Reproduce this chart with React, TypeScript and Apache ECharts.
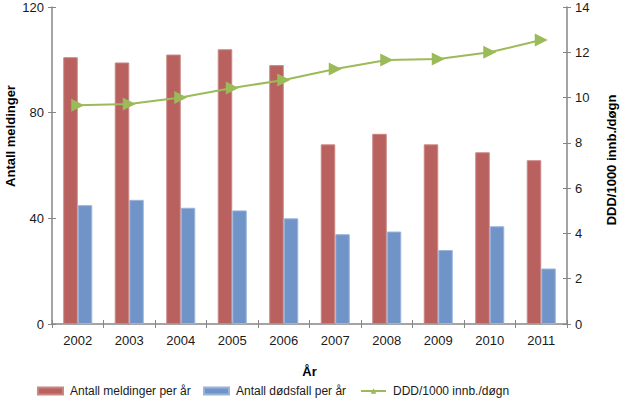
import React, { useEffect, useRef } from "react";
import * as echarts from "echarts";

const years = ["2002", "2003", "2004", "2005", "2006", "2007", "2008", "2009", "2010", "2011"];
const meldinger = [101, 99, 102, 104, 98, 68, 72, 68, 65, 62];
const dodsfall = [45, 47, 44, 43, 40, 34, 35, 28, 37, 21];
const ddd = [9.66, 9.72, 10.0, 10.42, 10.78, 11.26, 11.66, 11.7, 12.0, 12.54];

const leftTicks = { min: 0, max: 120, interval: 40 };
const rightTicks = { min: 0, max: 14, interval: 2 };

const FONT = "Liberation Sans, Arial, sans-serif";
const AX = "#868686";

export default function App() {
  const ref = useRef<HTMLDivElement>(null);
  useEffect(() => {
    const chart = echarts.init(ref.current!, null, { renderer: "svg" });
    const labelStyle = { color: "#1a1a1a", fontSize: 13, fontFamily: FONT };
    const legendBase = {
      top: 385,
      padding: 0,
      itemWidth: 25,
      itemHeight: 7,
      textStyle: { fontSize: 12, color: "#1a1a1a", fontFamily: FONT, padding: [0, 0, 0, 2] },
    };
    chart.setOption({
      animation: false,
      textStyle: { fontFamily: FONT },
      grid: { left: 52, right: 53, top: 7, bottom: 75 },
      xAxis: [
        {
          type: "category",
          data: years,
          axisLine: { lineStyle: { color: AX, width: 1.5 } },
          axisTick: { show: true, length: 4, lineStyle: { color: AX } },
          axisLabel: { ...labelStyle, margin: 10 },
          name: "År",
          nameLocation: "middle",
          nameGap: 41,
          nameTextStyle: { fontWeight: "bold", fontSize: 13, color: "#000", fontFamily: FONT },
        },
        {
          type: "category",
          data: years,
          position: "bottom",
          axisLine: { show: false },
          axisTick: { show: true, inside: true, length: 4, lineStyle: { color: AX } },
          axisLabel: { show: false },
        },
      ],
      yAxis: [
        {
          type: "value",
          ...leftTicks,
          position: "left",
          axisLine: { show: true, lineStyle: { color: AX, width: 1.5 } },
          axisTick: { show: true, length: 4, lineStyle: { color: AX } },
          axisLabel: { ...labelStyle, margin: 8 },
          splitLine: { show: false },
        },
        {
          type: "value",
          ...rightTicks,
          position: "right",
          axisLine: { show: true, lineStyle: { color: AX, width: 1.5 } },
          axisTick: { show: true, length: 4, lineStyle: { color: AX } },
          axisLabel: { ...labelStyle, margin: 8 },
          splitLine: { show: false },
        },
        {
          type: "value",
          ...leftTicks,
          position: "left",
          axisLine: { show: false },
          axisTick: { show: true, inside: true, length: 4, lineStyle: { color: AX } },
          axisLabel: { show: false },
          splitLine: { show: false },
        },
        {
          type: "value",
          ...rightTicks,
          position: "right",
          axisLine: { show: false },
          axisTick: { show: true, inside: true, length: 4, lineStyle: { color: AX } },
          axisLabel: { show: false },
          splitLine: { show: false },
        },
      ],
      legend: [
        { ...legendBase, left: 37, data: [{ name: "Antall meldinger per år", icon: "rect" }] },
        { ...legendBase, left: 203, data: [{ name: "Antall dødsfall per år", icon: "rect" }] },
        { ...legendBase, left: 360, data: [{ name: "DDD/1000 innb./døgn", symbolRotate: 0 }] },
      ],
      graphic: [
        {
          type: "text",
          x: 10,
          y: 136,
          rotation: Math.PI / 2,
          style: {
            text: "Antall meldinger",
            fontWeight: "bold",
            fontSize: 13,
            fontFamily: FONT,
            fill: "#000",
            align: "center",
            verticalAlign: "middle",
          },
        },
        {
          type: "text",
          x: 611,
          y: 160,
          rotation: Math.PI / 2,
          style: {
            text: "DDD/1000 innb./døgn",
            fontWeight: "bold",
            fontSize: 13,
            fontFamily: FONT,
            fill: "#000",
            align: "center",
            verticalAlign: "middle",
          },
        },
      ],
      series: [
        {
          name: "Antall meldinger per år",
          type: "bar",
          data: meldinger,
          barWidth: 14.5,
          barGap: "0%",
          itemStyle: { color: "#B8615E", borderColor: "#C98784", borderWidth: 1 },
        },
        {
          name: "Antall dødsfall per år",
          type: "bar",
          data: dodsfall,
          barWidth: 14.5,
          barGap: "0%",
          itemStyle: { color: "#7094C8", borderColor: "#9AB4DA", borderWidth: 1 },
        },
        {
          name: "DDD/1000 innb./døgn",
          type: "line",
          yAxisIndex: 1,
          data: ddd,
          symbol: "triangle",
          symbolSize: 13,
          symbolRotate: -90,
          lineStyle: { color: "#9BBB59", width: 2 },
          itemStyle: { color: "#9BBB59" },
          z: 5,
        },
      ],
    });
    return () => chart.dispose();
  }, []);
  return <div ref={ref} style={{ width: 620, height: 399, position: "absolute", left: 0, top: 0 }} />;
}
